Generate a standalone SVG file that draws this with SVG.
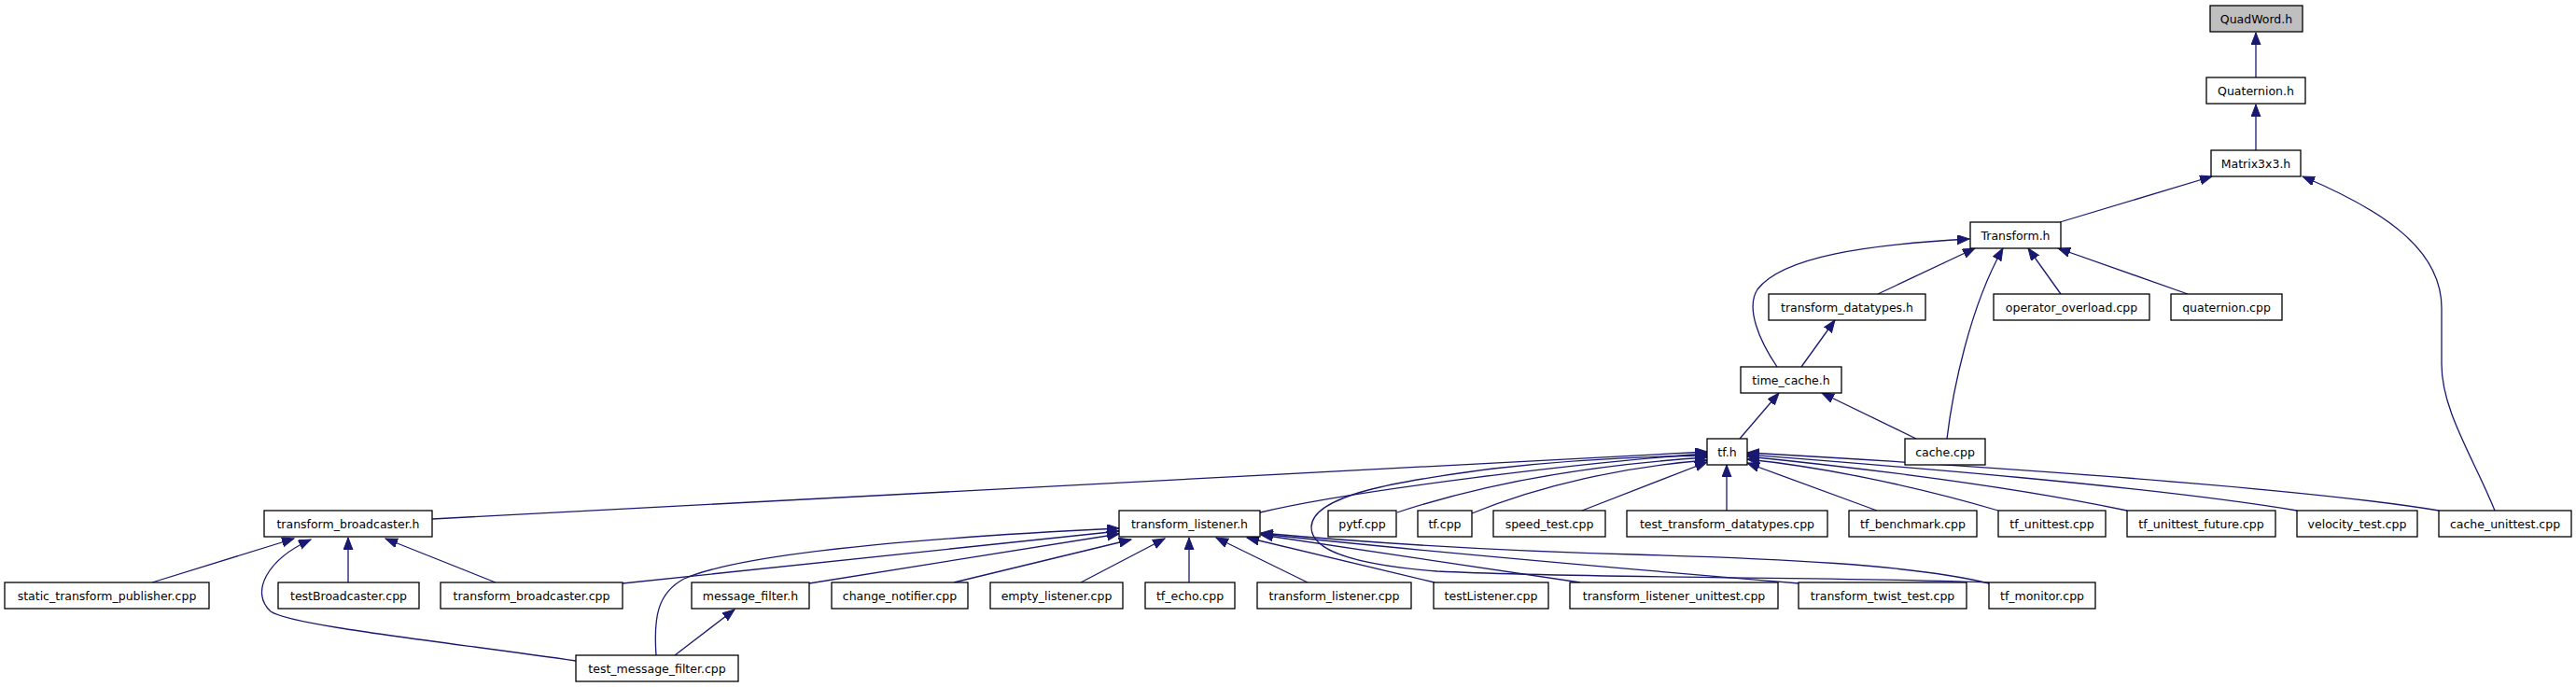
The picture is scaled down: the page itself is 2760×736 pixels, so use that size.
<svg xmlns="http://www.w3.org/2000/svg" width="2760" height="736" viewBox="0 0 2760 736">
<style>
.n rect{fill:#fff;stroke:#000;stroke-width:1.3}
.n text{font-family:"DejaVu Sans",sans-serif;font-size:12.5px;text-anchor:middle;fill:#000}
#n_quadword rect{fill:#bfbfbf}
.e path{fill:none;stroke:#191970;stroke-width:1.3;marker-end:url(#ah)}
</style>
<defs>
<marker id="ah" markerUnits="userSpaceOnUse" markerWidth="14" markerHeight="11" refX="13" refY="5" orient="auto">
<path d="M0,0 L13,5 L0,10 z" fill="#191970" stroke="#191970" stroke-width="1"/>
</marker>
</defs>
<rect width="2760" height="736" fill="#fff"/>
<g class="e" id="edges">
<path d="M2417,83 L2417,35"/>
<path d="M2417,161 L2417,112"/>
<path d="M2207,238 L2370,189"/>
<path d="M2673,547 C2650,490 2616,440 2616,390 L2616,330 C2616,270 2560,228 2467,189"/>
<path d="M2012,315 L2116,266"/>
<path d="M1904,393 C1885,365 1870,330 1883,310 C1910,275 2000,262 2110,256"/>
<path d="M2208,315 L2173,266"/>
<path d="M2344,315 L2205,266"/>
<path d="M2086,470 C2092,420 2110,330 2146,266"/>
<path d="M1930,393 L1966,343"/>
<path d="M2053,470 L1952,421"/>
<path d="M1864,470 L1906,421"/>
<path d="M463,556 L1829,484"/>
<path d="M1350,549 C1450,525 1700,495 1829,486"/>
<path d="M2131,624 C2000,618 1700,620 1540,612 C1450,605 1405,590 1405,565 C1405,530 1500,515 1600,502 C1680,493 1760,489 1829,488"/>
<path d="M1497,549 C1600,515 1720,497 1829,490"/>
<path d="M1577,550 C1650,520 1740,500 1829,493"/>
<path d="M1695,547 L1829,495"/>
<path d="M1850,547 L1850,498"/>
<path d="M2011,547 L1872,496"/>
<path d="M2141,547 C2050,520 1950,500 1872,492"/>
<path d="M2279,547 C2150,520 1980,500 1872,489"/>
<path d="M2461,547 C2300,520 2000,497 1872,487"/>
<path d="M2613,547 C2450,520 2050,495 1872,485"/>
<path d="M163,624 L315,577"/>
<path d="M617,708 C480,688 310,670 290,655 C268,635 285,600 333,578"/>
<path d="M373,624 L373,576"/>
<path d="M531,624 L413,577"/>
<path d="M703,702 C700,660 705,635 733,620 C790,595 950,578 1199,566"/>
<path d="M667,625 L1199,569"/>
<path d="M867,625 L1199,572"/>
<path d="M1022,624 L1212,578"/>
<path d="M1158,624 L1248,577"/>
<path d="M1274,624 L1274,576"/>
<path d="M1401,624 L1303,576"/>
<path d="M1537,624 L1336,576"/>
<path d="M1693,624 L1351,573"/>
<path d="M1928,625 C1700,606 1500,588 1351,572"/>
<path d="M2131,625 C2050,605 1900,598 1750,594 C1600,590 1450,580 1351,571"/>
<path d="M723,702 L787,653"/>
</g>
<g class="n" id="n_quadword"><rect x="2368" y="6" width="99" height="28"/><text x="2417.5" y="24.5">QuadWord.h</text></g>
<g class="n" id="n_quaternion_h"><rect x="2364" y="83" width="106" height="28"/><text x="2417" y="101.5">Quaternion.h</text></g>
<g class="n" id="n_matrix3x3"><rect x="2369" y="161" width="96" height="28"/><text x="2417" y="179.5">Matrix3x3.h</text></g>
<g class="n" id="n_transform_h"><rect x="2111" y="238" width="97" height="28"/><text x="2159.5" y="256.5">Transform.h</text></g>
<g class="n" id="n_transform_datatypes"><rect x="1895" y="315" width="168" height="28"/><text x="1979" y="333.5">transform_datatypes.h</text></g>
<g class="n" id="n_operator_overload"><rect x="2136" y="315" width="167" height="28"/><text x="2219.5" y="333.5">operator_overload.cpp</text></g>
<g class="n" id="n_quaternion_cpp"><rect x="2326" y="315" width="119" height="28"/><text x="2385.5" y="333.5">quaternion.cpp</text></g>
<g class="n" id="n_time_cache"><rect x="1865" y="393" width="108" height="28"/><text x="1919" y="411.5">time_cache.h</text></g>
<g class="n" id="n_tf_h"><rect x="1829" y="470" width="43" height="28"/><text x="1850.5" y="488.5">tf.h</text></g>
<g class="n" id="n_cache_cpp"><rect x="2041" y="470" width="86" height="28"/><text x="2084" y="488.5">cache.cpp</text></g>
<g class="n" id="n_transform_broadcaster_h"><rect x="283" y="547" width="180" height="28"/><text x="373" y="565.5">transform_broadcaster.h</text></g>
<g class="n" id="n_transform_listener_h"><rect x="1199" y="547" width="151" height="28"/><text x="1274.5" y="565.5">transform_listener.h</text></g>
<g class="n" id="n_pytf"><rect x="1423" y="547" width="73" height="28"/><text x="1459.5" y="565.5">pytf.cpp</text></g>
<g class="n" id="n_tf_cpp"><rect x="1519" y="547" width="58" height="28"/><text x="1548" y="565.5">tf.cpp</text></g>
<g class="n" id="n_speed_test"><rect x="1600" y="547" width="120" height="28"/><text x="1660" y="565.5">speed_test.cpp</text></g>
<g class="n" id="n_test_transform_datatypes"><rect x="1743" y="547" width="215" height="28"/><text x="1850.5" y="565.5">test_transform_datatypes.cpp</text></g>
<g class="n" id="n_tf_benchmark"><rect x="1981" y="547" width="137" height="28"/><text x="2049.5" y="565.5">tf_benchmark.cpp</text></g>
<g class="n" id="n_tf_unittest"><rect x="2141" y="547" width="115" height="28"/><text x="2198.5" y="565.5">tf_unittest.cpp</text></g>
<g class="n" id="n_tf_unittest_future"><rect x="2279" y="547" width="159" height="28"/><text x="2358.5" y="565.5">tf_unittest_future.cpp</text></g>
<g class="n" id="n_velocity_test"><rect x="2461" y="547" width="129" height="28"/><text x="2525.5" y="565.5">velocity_test.cpp</text></g>
<g class="n" id="n_cache_unittest"><rect x="2613" y="547" width="142" height="28"/><text x="2684" y="565.5">cache_unittest.cpp</text></g>
<g class="n" id="n_static_transform_publisher"><rect x="5" y="624" width="219" height="28"/><text x="114.5" y="642.5">static_transform_publisher.cpp</text></g>
<g class="n" id="n_testBroadcaster"><rect x="298" y="624" width="151" height="28"/><text x="373.5" y="642.5">testBroadcaster.cpp</text></g>
<g class="n" id="n_transform_broadcaster_cpp"><rect x="472" y="624" width="195" height="28"/><text x="569.5" y="642.5">transform_broadcaster.cpp</text></g>
<g class="n" id="n_message_filter"><rect x="741" y="624" width="126" height="28"/><text x="804" y="642.5">message_filter.h</text></g>
<g class="n" id="n_change_notifier"><rect x="891" y="624" width="146" height="28"/><text x="964" y="642.5">change_notifier.cpp</text></g>
<g class="n" id="n_empty_listener"><rect x="1061" y="624" width="142" height="28"/><text x="1132" y="642.5">empty_listener.cpp</text></g>
<g class="n" id="n_tf_echo"><rect x="1227" y="624" width="96" height="28"/><text x="1275" y="642.5">tf_echo.cpp</text></g>
<g class="n" id="n_transform_listener_cpp"><rect x="1347" y="624" width="165" height="28"/><text x="1429.5" y="642.5">transform_listener.cpp</text></g>
<g class="n" id="n_testListener"><rect x="1536" y="624" width="123" height="28"/><text x="1597.5" y="642.5">testListener.cpp</text></g>
<g class="n" id="n_transform_listener_unittest"><rect x="1682" y="624" width="223" height="28"/><text x="1793.5" y="642.5">transform_listener_unittest.cpp</text></g>
<g class="n" id="n_transform_twist_test"><rect x="1927" y="624" width="180" height="28"/><text x="2017" y="642.5">transform_twist_test.cpp</text></g>
<g class="n" id="n_tf_monitor"><rect x="2131" y="624" width="114" height="28"/><text x="2188" y="642.5">tf_monitor.cpp</text></g>
<g class="n" id="n_test_message_filter"><rect x="617" y="702" width="174" height="28"/><text x="704" y="720.5">test_message_filter.cpp</text></g>
</svg>
